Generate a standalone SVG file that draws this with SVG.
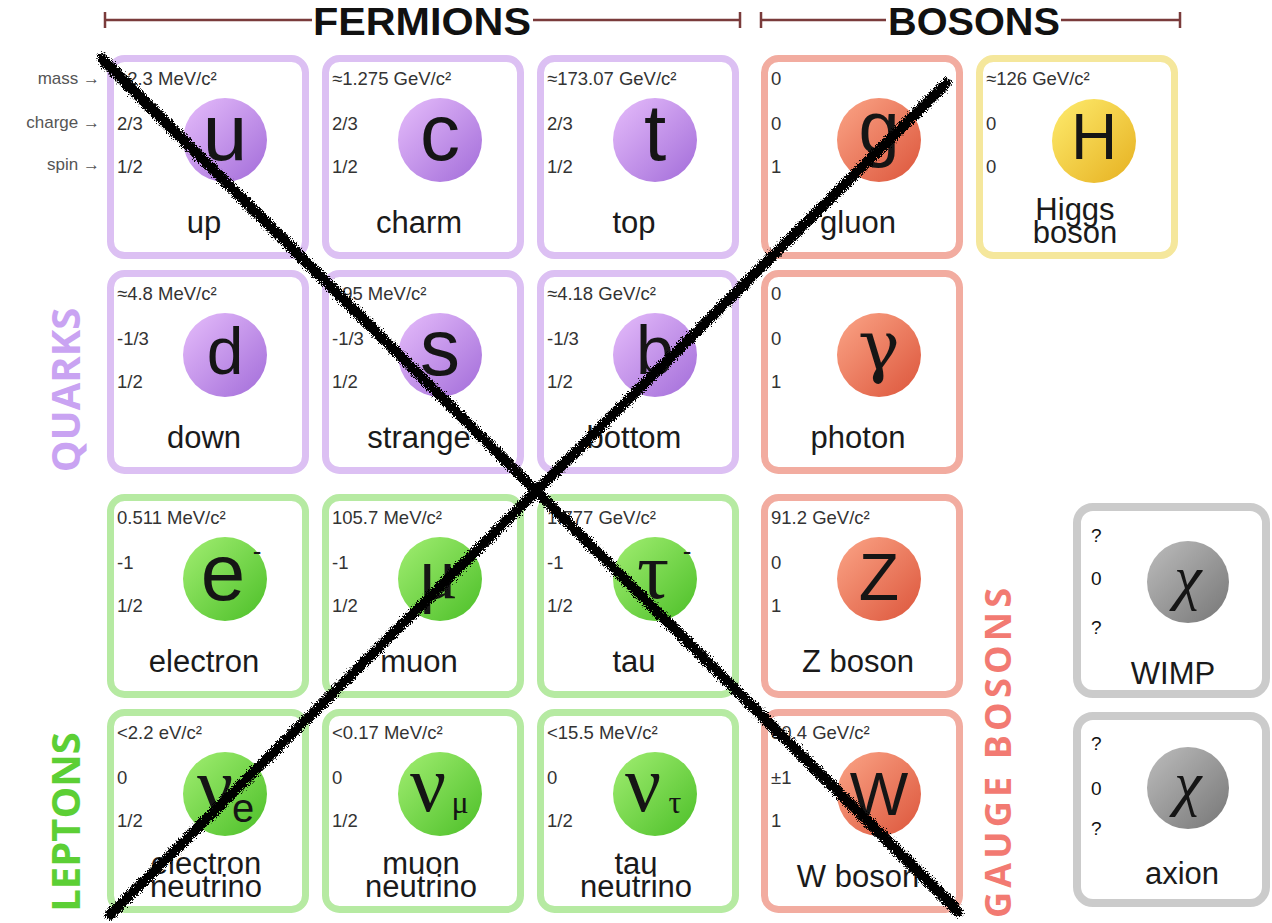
<svg xmlns="http://www.w3.org/2000/svg" width="1272" height="923" viewBox="0 0 1272 923">
<defs>
<linearGradient id="gP" x1="0" y1="0" x2="1" y2="1"><stop offset="0" stop-color="#e6bdfb"/><stop offset="1" stop-color="#a26cd9"/></linearGradient>
<linearGradient id="gG" x1="0" y1="0" x2="1" y2="1"><stop offset="0" stop-color="#a2ee72"/><stop offset="1" stop-color="#4cbf28"/></linearGradient>
<linearGradient id="gR" x1="0" y1="0" x2="1" y2="1"><stop offset="0" stop-color="#fba587"/><stop offset="1" stop-color="#dc553b"/></linearGradient>
<linearGradient id="gY" x1="0" y1="0" x2="1" y2="1"><stop offset="0" stop-color="#feec6e"/><stop offset="1" stop-color="#e6b020"/></linearGradient>
<linearGradient id="gK" x1="0" y1="0" x2="1" y2="1"><stop offset="0" stop-color="#bdbdbd"/><stop offset="1" stop-color="#767676"/></linearGradient>
<filter id="rough" filterUnits="userSpaceOnUse" x="0" y="0" width="1272" height="923">
<feTurbulence type="fractalNoise" baseFrequency="1.2" numOctaves="3" seed="4"/>
<feDisplacementMap in="SourceGraphic" scale="9" xChannelSelector="R" yChannelSelector="G"/>
</filter>
</defs>
<style>
.card{fill:#fff;stroke-width:7}
.p{stroke:#dcc0f3}.g{stroke:#b6eaa2}.r{stroke:#f2aca0}.y{stroke:#f5e79c}.k{stroke:#cbcbcb;stroke-width:8}
.v{font-family:"Liberation Sans",Arial,sans-serif;font-size:18.5px;fill:#333}
.q{font-family:"Liberation Sans",Arial,sans-serif;font-size:19px;fill:#111}
.n{font-family:"Liberation Sans",Arial,sans-serif;font-size:31px;fill:#1a1a1a;text-anchor:middle}
.s{font-family:"Liberation Sans",Arial,sans-serif;fill:#151515;text-anchor:middle}
.gs{font-family:"Liberation Serif","DejaVu Serif",serif;fill:#151515;text-anchor:middle}
.lab{font-family:"Liberation Sans",Arial,sans-serif;font-size:17px;fill:#555;text-anchor:end}
.hd{font-family:"Liberation Sans",Arial,sans-serif;font-weight:bold;fill:#111}
.side{font-family:"Open Sans","DejaVu Sans",sans-serif;font-weight:bold;text-anchor:middle}
.hl{stroke:#7a3b3b;stroke-width:2.5;fill:none}
.x{stroke:#000;stroke-width:10;stroke-linecap:round;fill:none}
</style>
<rect width="1272" height="923" fill="#fff"/>

<g id="header">
<path class="hl" d="M105,20H312M533,20H740M105,12V28M740,12V28"/>
<text class="hd" x="422" y="35" font-size="38" text-anchor="middle" textLength="218" lengthAdjust="spacingAndGlyphs">FERMIONS</text>
<path class="hl" d="M761,20H886M1061,20H1180M761,12V28M1180,12V28"/>
<text class="hd" x="974" y="35" font-size="38" text-anchor="middle" textLength="172" lengthAdjust="spacingAndGlyphs">BOSONS</text>
</g>

<g id="legend">
<text class="lab" x="100" y="84">mass →</text>
<text class="lab" x="100" y="128">charge →</text>
<text class="lab" x="100" y="170">spin →</text>
</g>

<g id="side-labels">
<text class="side" transform="translate(80,390) rotate(-90)" font-size="40" fill="#c9a3f2">QUARKS</text>
<text class="side" transform="translate(80,822) rotate(-90)" font-size="40" fill="#5ccf35">LEPTONS</text>
<text class="side" transform="translate(1011,753) rotate(-90)" font-size="36" fill="#f27a72" textLength="330" lengthAdjust="spacing">GAUGE BOSONS</text>
</g>

<!-- Row 1 -->
<g id="up" transform="translate(107,55)">
<rect class="card p" x="3.5" y="3.5" width="195" height="197" rx="14"/>
<text class="v" x="10" y="30">≈2.3 MeV/c²</text><text class="v" x="10" y="75">2/3</text><text class="v" x="10" y="118">1/2</text>
<circle cx="118" cy="85" r="42" fill="url(#gP)"/>
<text class="s" x="118" y="105" font-size="80">u</text>
<text class="n" x="97" y="178">up</text>
</g>
<g id="charm" transform="translate(322,55)">
<rect class="card p" x="3.5" y="3.5" width="195" height="197" rx="14"/>
<text class="v" x="10" y="30">≈1.275 GeV/c²</text><text class="v" x="10" y="75">2/3</text><text class="v" x="10" y="118">1/2</text>
<circle cx="118" cy="85" r="42" fill="url(#gP)"/>
<text class="s" x="118" y="105" font-size="80">c</text>
<text class="n" x="97" y="178">charm</text>
</g>
<g id="top" transform="translate(537,55)">
<rect class="card p" x="3.5" y="3.5" width="195" height="197" rx="14"/>
<text class="v" x="10" y="30">≈173.07 GeV/c²</text><text class="v" x="10" y="75">2/3</text><text class="v" x="10" y="118">1/2</text>
<circle cx="118" cy="85" r="42" fill="url(#gP)"/>
<text class="s" x="118" y="105" font-size="80">t</text>
<text class="n" x="97" y="178">top</text>
</g>
<g id="gluon" transform="translate(761,55)">
<rect class="card r" x="3.5" y="3.5" width="195" height="197" rx="14"/>
<text class="v" x="10" y="30">0</text><text class="v" x="10" y="75">0</text><text class="v" x="10" y="118">1</text>
<circle cx="118" cy="85" r="42" fill="url(#gR)"/>
<text class="s" x="118" y="98" font-size="74">g</text>
<text class="n" x="97" y="178">gluon</text>
</g>
<g id="higgs" transform="translate(976,55)">
<rect class="card y" x="3.5" y="3.5" width="195" height="197" rx="14"/>
<text class="v" x="10" y="30">≈126 GeV/c²</text><text class="v" x="10" y="75">0</text><text class="v" x="10" y="118">0</text>
<circle cx="118" cy="86" r="42" fill="url(#gY)"/>
<text class="s" x="118" y="104" font-size="64">H</text>
<text class="n" x="99" y="165" font-size="29">Higgs</text><text class="n" x="99" y="188" font-size="29">boson</text>
</g>

<!-- Row 2 -->
<g id="down" transform="translate(107,270)">
<rect class="card p" x="3.5" y="3.5" width="195" height="197" rx="14"/>
<text class="v" x="10" y="30">≈4.8 MeV/c²</text><text class="v" x="10" y="75">-1/3</text><text class="v" x="10" y="118">1/2</text>
<circle cx="118" cy="85" r="42" fill="url(#gP)"/>
<text class="s" x="118" y="104" font-size="66">d</text>
<text class="n" x="97" y="178">down</text>
</g>
<g id="strange" transform="translate(322,270)">
<rect class="card p" x="3.5" y="3.5" width="195" height="197" rx="14"/>
<text class="v" x="10" y="30">≈95 MeV/c²</text><text class="v" x="10" y="75">-1/3</text><text class="v" x="10" y="118">1/2</text>
<circle cx="118" cy="85" r="42" fill="url(#gP)"/>
<text class="s" x="118" y="105" font-size="80">s</text>
<text class="n" x="97" y="178">strange</text>
</g>
<g id="bottom" transform="translate(537,270)">
<rect class="card p" x="3.5" y="3.5" width="195" height="197" rx="14"/>
<text class="v" x="10" y="30">≈4.18 GeV/c²</text><text class="v" x="10" y="75">-1/3</text><text class="v" x="10" y="118">1/2</text>
<circle cx="118" cy="85" r="42" fill="url(#gP)"/>
<text class="s" x="118" y="104" font-size="68">b</text>
<text class="n" x="97" y="178">bottom</text>
</g>
<g id="photon" transform="translate(761,270)">
<rect class="card r" x="3.5" y="3.5" width="195" height="197" rx="14"/>
<text class="v" x="10" y="30">0</text><text class="v" x="10" y="75">0</text><text class="v" x="10" y="118">1</text>
<circle cx="118" cy="85" r="42" fill="url(#gR)"/>
<text x="118" y="100" font-size="70" font-family="'DejaVu Serif','Liberation Serif',serif" fill="#151515" text-anchor="middle">γ</text>
<text class="n" x="97" y="178">photon</text>
</g>

<!-- Row 3 -->
<g id="electron" transform="translate(107,494)">
<rect class="card g" x="3.5" y="3.5" width="195" height="197" rx="14"/>
<text class="v" x="10" y="30">0.511 MeV/c²</text><text class="v" x="10" y="75">-1</text><text class="v" x="10" y="118">1/2</text>
<circle cx="118" cy="85" r="42" fill="url(#gG)"/>
<text class="s" x="116" y="106" font-size="80">e</text>
<text class="s" x="150" y="66" font-size="26">-</text>
<text class="n" x="97" y="178">electron</text>
</g>
<g id="muon" transform="translate(322,494)">
<rect class="card g" x="3.5" y="3.5" width="195" height="197" rx="14"/>
<text class="v" x="10" y="30">105.7 MeV/c²</text><text class="v" x="10" y="75">-1</text><text class="v" x="10" y="118">1/2</text>
<circle cx="118" cy="85" r="42" fill="url(#gG)"/>
<text class="gs" x="116" y="104" font-size="74">μ</text>
<text class="s" x="150" y="66" font-size="26">-</text>
<text class="n" x="97" y="178">muon</text>
</g>
<g id="tau" transform="translate(537,494)">
<rect class="card g" x="3.5" y="3.5" width="195" height="197" rx="14"/>
<text class="v" x="10" y="30">1.777 GeV/c²</text><text class="v" x="10" y="75">-1</text><text class="v" x="10" y="118">1/2</text>
<circle cx="118" cy="85" r="42" fill="url(#gG)"/>
<text class="gs" x="116" y="104" font-size="80">τ</text>
<text class="s" x="150" y="66" font-size="26">-</text>
<text class="n" x="97" y="178">tau</text>
</g>
<g id="zboson" transform="translate(761,494)">
<rect class="card r" x="3.5" y="3.5" width="195" height="197" rx="14"/>
<text class="v" x="10" y="30">91.2 GeV/c²</text><text class="v" x="10" y="75">0</text><text class="v" x="10" y="118">1</text>
<circle cx="118" cy="85" r="42" fill="url(#gR)"/>
<text class="s" x="118" y="106" font-size="66">Z</text>
<text class="n" x="97" y="178">Z boson</text>
</g>

<!-- Row 4 -->
<g id="electron-neutrino" transform="translate(107,709)">
<rect class="card g" x="3.5" y="3.5" width="195" height="197" rx="14"/>
<text class="v" x="10" y="30">&lt;2.2 eV/c²</text><text class="v" x="10" y="75">0</text><text class="v" x="10" y="118">1/2</text>
<circle cx="118" cy="85" r="42" fill="url(#gG)"/>
<text class="gs" x="108" y="104" font-size="80">ν</text>
<text class="s" x="136" y="113" font-size="40">e</text>
<text class="n" x="99" y="165" font-size="29">electron</text><text class="n" x="99" y="188" font-size="29">neutrino</text>
</g>
<g id="muon-neutrino" transform="translate(322,709)">
<rect class="card g" x="3.5" y="3.5" width="195" height="197" rx="14"/>
<text class="v" x="10" y="30">&lt;0.17 MeV/c²</text><text class="v" x="10" y="75">0</text><text class="v" x="10" y="118">1/2</text>
<circle cx="118" cy="85" r="42" fill="url(#gG)"/>
<text class="gs" x="106" y="102" font-size="80">ν</text>
<text class="gs" x="138" y="104" font-size="32">μ</text>
<text class="n" x="99" y="165" font-size="29">muon</text><text class="n" x="99" y="188" font-size="29">neutrino</text>
</g>
<g id="tau-neutrino" transform="translate(537,709)">
<rect class="card g" x="3.5" y="3.5" width="195" height="197" rx="14"/>
<text class="v" x="10" y="30">&lt;15.5 MeV/c²</text><text class="v" x="10" y="75">0</text><text class="v" x="10" y="118">1/2</text>
<circle cx="118" cy="85" r="42" fill="url(#gG)"/>
<text class="gs" x="106" y="102" font-size="80">ν</text>
<text class="gs" x="138" y="104" font-size="32">τ</text>
<text class="n" x="99" y="165" font-size="29">tau</text><text class="n" x="99" y="188" font-size="29">neutrino</text>
</g>
<g id="wboson" transform="translate(761,709)">
<rect class="card r" x="3.5" y="3.5" width="195" height="197" rx="14"/>
<text class="v" x="10" y="30">80.4 GeV/c²</text><text class="v" x="10" y="75">±1</text><text class="v" x="10" y="118">1</text>
<circle cx="118" cy="85" r="42" fill="url(#gR)"/>
<text class="s" x="118" y="106" font-size="62">W</text>
<text class="n" x="97" y="178">W boson</text>
</g>

<!-- Dark matter -->
<g id="wimp" transform="translate(1073,503)">
<rect class="card k" x="4" y="4" width="189" height="187" rx="16"/>
<text class="q" x="18" y="39">?</text><text class="q" x="18" y="82">0</text><text class="q" x="18" y="131">?</text>
<circle cx="115" cy="79" r="41" fill="url(#gK)"/>
<text class="gs" x="115" y="95" font-size="62" font-style="italic">χ</text>
<text class="n" x="100" y="181" font-size="27">WIMP</text>
</g>
<g id="axion" transform="translate(1073,712)">
<rect class="card k" x="4" y="4" width="189" height="187" rx="16"/>
<text class="q" x="18" y="38">?</text><text class="q" x="18" y="83">0</text><text class="q" x="18" y="123">?</text>
<circle cx="115" cy="76" r="41" fill="url(#gK)"/>
<text class="gs" x="115" y="92" font-size="62" font-style="italic">χ</text>
<text class="n" x="109" y="172" font-size="27">axion</text>
</g>

<g id="cross" filter="url(#rough)">
<path class="x" d="M102,58L958,912"/>
<path class="x" d="M946,83L110,915"/>
<path class="x" stroke-width="6" d="M105,63L955,907M943,87L114,911"/>
</g>
</svg>
